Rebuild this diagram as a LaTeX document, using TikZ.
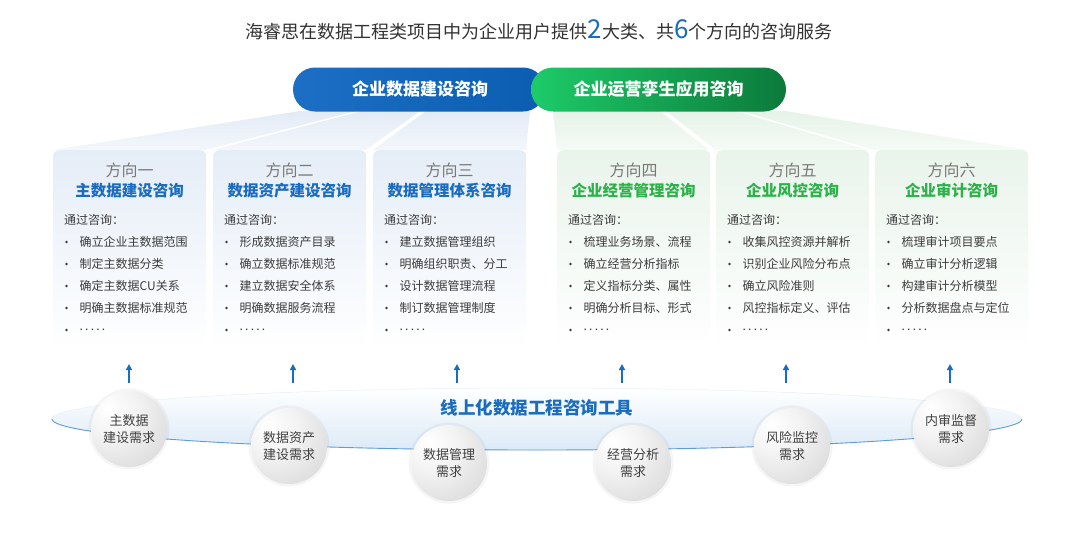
\documentclass[tikz,border=0pt]{standalone}
\usepackage{fontspec}
\setmainfont{Noto Sans CJK SC}
\usetikzlibrary{arrows.meta,calc}
\definecolor{titlegray}{HTML}{333333}
\definecolor{bluemain}{HTML}{1A6CBF}
\definecolor{greenmain}{HTML}{2DB14A}
\definecolor{dirgray}{HTML}{7A7A7A}
\definecolor{itemgray}{HTML}{3C3C3C}
\definecolor{pillBl}{HTML}{1C6FC4}
\definecolor{pillBr}{HTML}{0A5DB0}
\definecolor{pillGl}{HTML}{1DCB69}
\definecolor{pillGr}{HTML}{0C7A3B}
\definecolor{cardB}{HTML}{E5EDF7}
\definecolor{cardG}{HTML}{E9F4EB}
\definecolor{rayB}{HTML}{E2EBF6}
\definecolor{rayG}{HTML}{E6F3E8}
\definecolor{ellB}{HTML}{DCEAF7}
\definecolor{ellLine}{HTML}{5E9DD8}
\pgfdeclareradialshading{sphereshade}{\pgfpoint{-14bp}{14bp}}{%
  color(0bp)=(white); color(18bp)=(black!5); color(45bp)=(black!16);
  color(62bp)=(black!24); color(100bp)=(black!24)}
\newcommand\dotsfive{.\hspace{2.2pt}.\hspace{2.2pt}.\hspace{2.2pt}.\hspace{2.2pt}.}
\tikzset{
  cardblue/.style={rectangle, rounded corners=6pt, minimum width=153pt, minimum height=200pt,
    top color=cardB, bottom color=white, inner sep=0pt},
  cardgreen/.style={rectangle, rounded corners=6pt, minimum width=153pt, minimum height=200pt,
    top color=cardG, bottom color=white, inner sep=0pt},
  dirtext/.style={text=dirgray, font=\fontsize{16}{18}\selectfont, inner sep=0pt},
  ctitleblue/.style={text=bluemain, font=\bfseries\fontsize{15.5}{18}\selectfont, inner sep=0pt},
  ctitlegreen/.style={text=greenmain, font=\bfseries\fontsize{15.5}{18}\selectfont, inner sep=0pt},
  itemtext/.style={text=itemgray, font=\fontsize{12}{14}\selectfont, inner sep=0pt, anchor=west},
  pillblue/.style={rectangle, rounded corners=22pt, minimum width=252pt, minimum height=44pt,
    left color=pillBl, right color=pillBr, text=white, font=\bfseries\fontsize{17}{20}\selectfont},
  pillgreen/.style={rectangle, rounded corners=22pt, minimum width=255pt, minimum height=44pt,
    left color=pillGl, right color=pillGr, text=white, font=\bfseries\fontsize{17}{20}\selectfont},
  sphere/.style={circle, minimum size=76pt, inner sep=0pt, shading=sphereshade,
    text=black!75, align=center, font=\fontsize{13}{16.5}\selectfont},
  halo/.style={fill=black, opacity=0.04},
  uparrow/.style={draw=bluemain, line width=1.8pt, -{Triangle[length=6pt,width=6pt]}},
}
\newcommand\mkcard[6]{%
  \node[card#3, anchor=north west] (#1) at (#2,150) {};
  \node[dirtext] (#1d) at (#2+76.5,170) {#4};
  \node[ctitle#3] (#1t) at (#2+76.5,190.5) {#5};
  \node[itemtext] (#1h) at (#2+11,220) {通过咨询：};
  \foreach \tx [count=\i] in {#6} {
    \fill[itemgray] (#2+13.5,220+22*\i) circle (1.4pt);
    \node[itemtext] (#1i\i) at (#2+26.5,220+22*\i) {\tx};
  }
}
\newcommand\mksphere[4]{%
  \fill[halo] (#2,#3) circle (40.5pt);
  \node[sphere] (#1) at (#2,#3) {#4};
}
\begin{document}
\begin{tikzpicture}[x=1pt,y=-1pt]
\useasboundingbox (0,0) rectangle (1080,536);
\fill[white] (0,0) rectangle (1080,536);

% title
\node[text=titlegray, font=\fontsize{18}{22}\selectfont, inner sep=0pt] (title) at (539,30)
  {海睿思在数据工程类项目中为企业用户提供\textcolor{bluemain}{\fontsize{26}{26}\selectfont 2}大类、共\textcolor{bluemain}{\fontsize{26}{26}\selectfont 6}个方向的咨询服务};

% light rays
\shade[top color=rayB, bottom color=rayB!40] (300,111) -- (356,111) -- (205,150) -- (53,150) -- cycle;
\shade[top color=rayB, bottom color=rayB!40] (362,111) -- (420,111) -- (366,150) -- (213,150) -- cycle;
\shade[top color=rayB, bottom color=rayB!40] (426,111) -- (530,111) -- (526,150) -- (373,150) -- cycle;
\shade[top color=rayG, bottom color=rayG!40] (553,111) -- (660,111) -- (709,150) -- (557,150) -- cycle;
\shade[top color=rayG, bottom color=rayG!40] (666,111) -- (735,111) -- (868,150) -- (716,150) -- cycle;
\shade[top color=rayG, bottom color=rayG!40] (741,111) -- (785,111) -- (1027,150) -- (875,150) -- cycle;

% pills
\node[pillblue] (pb) at (419,89.5) {\hspace*{2pt}企业数据建设咨询};
\node[pillgreen] (pg) at (658.5,89.5) {企业运营孪生应用咨询};

% cards
\mkcard{c1}{53}{blue}{方向一}{主数据建设咨询}{确立企业主数据范围,制定主数据分类,确定主数据CU关系,明确主数据标准规范,\dotsfive}
\mkcard{c2}{213}{blue}{方向二}{数据资产建设咨询}{形成数据资产目录,确立数据标准规范,建立数据安全体系,明确数据服务流程,\dotsfive}
\mkcard{c3}{373}{blue}{方向三}{数据管理体系咨询}{建立数据管理组织,明确组织职责、分工,设计数据管理流程,制订数据管理制度,\dotsfive}
\mkcard{c4}{557}{green}{方向四}{企业经营管理咨询}{梳理业务场景、流程,确立经营分析指标,定义指标分类、属性,明确分析目标、形式,\dotsfive}
\mkcard{c5}{716}{green}{方向五}{企业风控咨询}{收集风控资源并解析,识别企业风险分布点,确立风险准则,风控指标定义、评估,\dotsfive}
\mkcard{c6}{875}{green}{方向六}{企业审计咨询}{梳理审计项目要点,确立审计分析逻辑,构建审计分析模型,分析数据盘点与定位,\dotsfive}

% platform ellipse
\shade[top color=white, bottom color=ellB] (537,419) ellipse [x radius=485pt, y radius=31pt];
\draw[ellLine!15, line width=0.5pt] (52,419) arc[start angle=180, end angle=0, x radius=485pt, y radius=31pt];
\draw[ellLine, line width=0.9pt] (52,419) arc[start angle=180, end angle=360, x radius=485pt, y radius=31pt];
\node[text=bluemain, font=\bfseries\fontsize{17.5}{20}\selectfont, inner sep=0pt] (tool) at (537,408) {线上化数据工程咨询工具};

% arrows
\foreach \ax [count=\k] in {129,293,457,622,786,950} {
  \coordinate (b\k) at (\ax,383);
  \coordinate (t\k) at (\ax,364);
  \draw[uparrow] (b\k) -- (t\k);
}

% spheres
\mksphere{s1}{129}{429}{主数据\\建设需求}
\mksphere{s2}{289}{446}{数据资产\\建设需求}
\mksphere{s3}{449}{463}{数据管理\\需求}
\mksphere{s4}{633}{463}{经营分析\\需求}
\mksphere{s5}{792}{446}{风险监控\\需求}
\mksphere{s6}{951}{429}{内审监督\\需求}
\end{tikzpicture}
\end{document}
